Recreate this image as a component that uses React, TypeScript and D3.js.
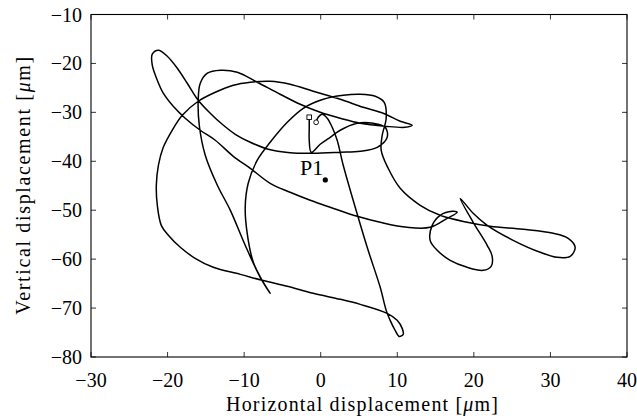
import React from 'react';
import * as d3 from 'd3';

// Trajectory (µm), in drawing order from the square marker to the circle marker
const trajX = [
  -1.5, -1.5, -1.5, -1.24, -0.07, 1.24, 2.55, 4.76, 6.85, 8.42, 8.68, 7.38, 5.16, 2.55, -0.98, -4.0,
  -6.86, -9.2, -11.16, -12.86, -14.43, -16.0, -17.43, -18.73, -20.04, -21.2, -22.0, -22.0, -21.34, -20.56,
  -19.26, -17.7, -15.73, -13.77, -11.42, -9.2, -6.6, -4.0, -1.37, 1.24, 4.76, 7.77, 11.29, 14.29,
  16.52, 17.82, 17.17, 15.6, 14.56, 14.29, 15.21, 16.91, 19.13, 21.22, 22.26, 22.39, 21.74, 19.91,
  18.21,
  19.91, 21.74, 25.13, 28.66, 30.88, 32.58, 33.23, 32.32, 30.36, 26.44, 22.13, 19.13, 15.6, 12.99,
  10.38, 8.81, 7.9, 8.03, 8.55, 8.29, 7.12, 5.16, 2.94, 0.33, -2.28, -4.37, -6.6, -8.3, -9.47,
  -9.86, -9.6, -8.8, -7.64, -6.6,
  -7.9, -9.86, -11.8, -13.5, -15.08, -15.86, -16.0, -15.73, -14.8, -13.1, -10.9, -8.3, -5.3, -2.68,
  -0.07, 2.55, 5.16, 8.42, 11.03, 11.95, 10.38, 8.16, 5.55, 2.55, -0.98, -4.0, -6.6, -9.2, -11.42,
  -13.77, -16.0, -18.08, -19.4, -20.56, -21.2, -21.47, -21.34, -20.82, -19.9, -18.34, -16.4, -14.03,
  -10.5, -7.64, -4.37, -0.98, 2.55, 5.16, 8.68, 9.98, 10.64, 10.77, 10.25, 9.72, 9.07, 8.55, 7.77,
  6.07, 4.24, 2.94, 2.15, 1.5, 0.85, 0.2, -0.33, -0.6,
];
const trajY = [
  -31.0, -33.25, -35.7, -38.16, -36.52, -35.09, -33.66, -32.23, -32.23, -33.05, -35.09, -37.14,
  -37.96, -38.16, -38.36, -38.26, -37.55, -36.11, -34.48, -32.44, -30.18, -27.53, -24.05, -20.98, -18.53,
  -17.3, -18.12, -20.37, -23.44, -26.09, -28.77, -31.2, -33.66, -35.7, -38.98, -41.43, -44.5,
  -46.34, -47.97, -49.4, -51.25, -52.47, -53.5, -53.5, -51.66, -50.43, -50.22, -51.04, -53.09,
  -56.15, -58.19, -60.24, -61.67, -62.29, -61.47, -59.42, -57.17, -52.47, -47.57,
  -50.63, -53.09, -56.15, -58.6, -59.63, -59.42, -57.58, -55.74, -54.72, -53.91, -53.3, -52.47,
  -51.04, -48.99, -45.52, -41.43, -37.75, -34.68, -31.2, -27.94, -26.71, -26.3, -26.5, -27.32,
  -29.17, -32.03, -36.11, -39.8, -44.5, -49.4, -54.72, -60.65, -64.33, -66.99,
  -63.72, -57.17, -50.02, -44.91, -38.77, -32.64, -27.53, -24.05, -22.0, -21.39, -21.8, -23.84,
  -26.3, -28.35, -29.98, -31.2, -32.23, -32.84, -33.05, -32.64, -31.82, -30.18, -28.97, -27.32,
  -25.69, -24.25, -23.64, -23.84, -24.46, -25.89, -27.73, -30.59, -33.66, -37.14, -40.82, -44.91,
  -48.99, -53.09, -55.13, -57.58, -59.83, -61.67, -63.11, -64.33, -65.56, -66.99, -68.21, -69.24,
  -71.08, -72.51, -74.15, -75.38, -75.79, -74.56, -72.51, -70.47, -65.76, -57.58, -47.97, -40.82,
  -35.7, -33.05, -31.2, -30.39, -31.0, -32.03,
];

const p1Point = [0.6, -43.8];
const p1Label = 'P1';
const xTicks = [-30, -20, -10, 0, 10, 20, 30, 40];
const yTicks = [-80, -70, -60, -50, -40, -30, -20, -10];
const xDomain = [-30, 40];
const yDomain = [-80, -10];

const W = 637;
const H = 418;
const L = 91;
const R = 627;
const T = 14.5;
const B = 357;
const FONT = '"Liberation Serif", "DejaVu Serif", serif';

export default function App() {
  const x = d3.scaleLinear().domain(xDomain).range([L, R]);
  const y = d3.scaleLinear().domain(yDomain).range([B, T]);
  const pts: [number, number][] = trajX.map((v, i) => [v, trajY[i]]);
  const line = d3
    .line<[number, number]>()
    .x((d) => x(d[0]))
    .y((d) => y(d[1]))
    .curve(d3.curveCatmullRom.alpha(0.5));
  const fmt = d3.format('d');
  const n = pts.length;
  const tk = 5;
  return (
    <svg
      width={W}
      height={H}
      style={{ position: 'absolute', left: 0, top: 0, background: '#fff' }}
      fontFamily={FONT}
    >
      <rect x={0} y={0} width={W} height={H} fill="#fff" />
      <path d={line(pts) || ''} fill="none" stroke="#000" strokeWidth={1.5} strokeLinejoin="round" />
      {/* start / end markers */}
      <rect
        x={x(pts[0][0]) - 2.3}
        y={y(pts[0][1]) - 2.3}
        width={4.6}
        height={4.6}
        fill="#fff"
        stroke="#000"
        strokeWidth={0.9}
      />
      <circle cx={x(pts[n - 1][0])} cy={y(pts[n - 1][1])} r={2.4} fill="#fff" stroke="#000" strokeWidth={0.9} />
      <circle cx={x(p1Point[0])} cy={y(p1Point[1])} r={2.6} fill="#000" />
      <text x={x(p1Point[0]) - 2} y={y(p1Point[1]) - 5} fontSize={22} textAnchor="end">
        {p1Label}
      </text>
      {/* frame */}
      <rect x={L} y={T} width={R - L} height={B - T} fill="none" stroke="#000" strokeWidth={1.1} />
      {xTicks.map((t) => (
        <g key={'x' + t}>
          <line x1={x(t)} x2={x(t)} y1={B} y2={B - tk} stroke="#000" strokeWidth={0.8} />
          <line x1={x(t)} x2={x(t)} y1={T} y2={T + tk} stroke="#000" strokeWidth={0.8} />
          <text x={x(t)} y={B + 30} fontSize={20} textAnchor="middle">
            {t < 0 ? '\u2212' + fmt(-t) : fmt(t)}
          </text>
        </g>
      ))}
      {yTicks.map((t) => (
        <g key={'y' + t}>
          <line x1={L} x2={L + tk} y1={y(t)} y2={y(t)} stroke="#000" strokeWidth={0.8} />
          <line x1={R} x2={R - tk} y1={y(t)} y2={y(t)} stroke="#000" strokeWidth={0.8} />
          <text x={L - 9} y={y(t) + 7} fontSize={20} textAnchor="end">
            {t < 0 ? '\u2212' + fmt(-t) : fmt(t)}
          </text>
        </g>
      ))}
      <text
        x={(L + R) / 2 + 3}
        y={411}
        fontSize={20}
        textAnchor="middle"
        textLength={272}
        lengthAdjust="spacing"
      >
        Horizontal displacement [<tspan fontStyle="italic">μ</tspan>m]
      </text>
      <text
        transform={`translate(30,${(T + B) / 2}) rotate(-90)`}
        fontSize={20}
        textAnchor="middle"
        textLength={258}
        lengthAdjust="spacing"
      >
        Vertical displacement [<tspan fontStyle="italic">μ</tspan>m]
      </text>
    </svg>
  );
}
